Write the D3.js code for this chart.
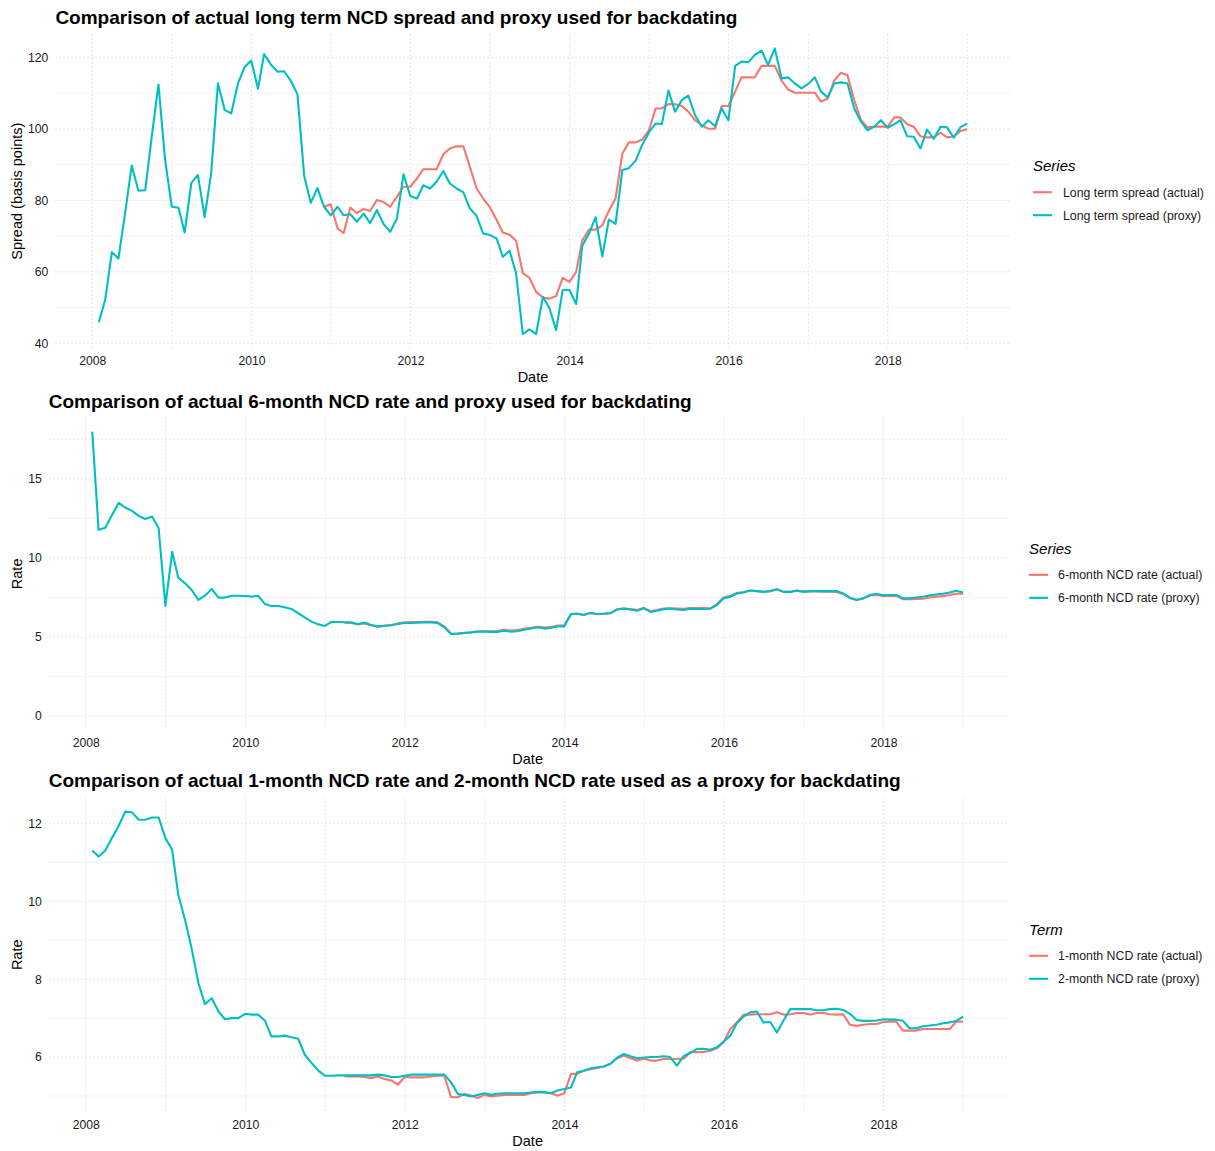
<!DOCTYPE html>
<html><head><meta charset="utf-8">
<script src="https://cdn.jsdelivr.net/npm/d3@7/dist/d3.min.js"></script>
<style>
body{margin:0;background:#fff;}
svg{display:block;font-family:"Liberation Sans",Arial,Helvetica,sans-serif;}
</style>
</head><body>
<svg id="chart" width="1215" height="1151"></svg>
<script>
// ---- Categories: month-end dates, Jan 2008 .. Dec 2018 ----
const firstYear = 2008, monthCount = 132;
const months = d3.range(monthCount).map(i => new Date(firstYear, i + 1, 0));

const xTickYears = [2008, 2010, 2012, 2014, 2016, 2018];
const xMinorYears = [2009, 2011, 2013, 2015, 2017, 2019];

// ---- Panel 1: long term spread (basis points) ----
const spreadProxy = [
 45.9,52.1,65.5,63.7,76.5,89.7,82.7,82.8,97.8,112.4,91.5,78.2,
 77.9,71.0,84.9,87.1,75.3,87.6,112.7,105.3,104.3,112.7,117.2,119.1,
 111.2,120.9,118.0,116.0,116.1,113.5,109.7,86.9,79.3,83.4,78.2,75.8,
 78.2,75.8,76.1,74.0,76.3,73.6,77.3,73.3,71.2,74.9,87.3,81.2,
 80.5,84.2,83.3,85.2,88.2,84.7,83.3,82.2,77.7,75.6,70.7,70.3,
 69.3,64.2,65.9,59.6,42.6,43.9,42.6,53.0,49.8,43.7,54.9,54.9,
 51.0,67.3,70.7,75.3,64.3,74.6,73.4,88.5,89.0,91.1,95.5,99.0,
 101.5,101.3,110.7,104.8,108.0,109.3,103.8,100.6,102.4,100.7,105.7,102.4,
 117.6,118.8,118.6,120.7,121.9,117.9,122.5,114.1,114.4,112.7,111.3,112.5,
 114.4,110.4,108.8,112.7,113.0,112.7,105.7,102.0,99.6,100.6,102.4,100.3,
 101.3,102.4,97.9,97.8,94.5,99.8,97.2,100.6,100.4,97.5,100.4,101.5
];
const spreadActual = [
 null,null,null,null,null,null,null,null,null,null,null,null,
 null,null,null,null,null,null,null,null,null,null,null,null,
 null,null,null,null,null,null,null,null,null,null,78.2,78.9,
 72.2,70.8,78.0,76.4,77.6,77.0,80.1,79.5,78.2,81.0,83.8,83.8,
 86.1,88.7,88.7,88.7,92.9,94.5,95.1,95.1,89.3,83.3,80.5,78.0,
 74.5,71.0,70.4,68.7,59.6,58.4,54.4,52.8,52.5,53.2,58.3,57.2,
 60.0,68.8,71.8,71.8,73.0,77.0,80.5,93.1,96.2,96.2,97.0,99.6,
 105.7,105.7,106.9,106.9,106.4,104.8,102.4,101.0,100.0,100.0,106.4,106.4,
 110.4,114.4,114.4,114.4,117.6,117.6,117.6,113.5,111.0,110.1,110.1,110.1,
 110.1,107.6,108.5,113.5,115.7,115.0,108.0,102.4,100.4,100.6,100.6,100.6,
 103.2,103.2,101.3,100.6,97.9,97.6,97.6,98.9,97.6,97.9,99.4,99.9
];

// ---- Panel 2: 6-month NCD rate ----
const sixMonthProxy = [
 17.98,11.77,11.91,12.69,13.47,13.18,12.97,12.65,12.46,12.61,11.87,6.96,
 10.38,8.75,8.39,7.97,7.34,7.61,8.04,7.49,7.49,7.61,7.61,7.59,
 7.55,7.61,7.09,6.96,6.96,6.88,6.77,6.50,6.24,5.97,5.80,5.70,
 5.95,5.95,5.93,5.93,5.80,5.91,5.76,5.67,5.71,5.74,5.82,5.88,
 5.88,5.90,5.92,5.92,5.88,5.61,5.19,5.21,5.25,5.29,5.34,5.34,
 5.32,5.32,5.40,5.34,5.36,5.46,5.53,5.61,5.53,5.57,5.67,5.67,
 6.45,6.47,6.39,6.53,6.45,6.47,6.51,6.74,6.79,6.74,6.66,6.81,
 6.58,6.66,6.76,6.79,6.74,6.71,6.79,6.77,6.77,6.79,7.02,7.44,
 7.54,7.75,7.81,7.94,7.90,7.85,7.90,8.02,7.85,7.85,7.92,7.85,
 7.90,7.90,7.90,7.90,7.90,7.75,7.48,7.35,7.44,7.65,7.73,7.63,
 7.65,7.65,7.44,7.44,7.50,7.54,7.63,7.69,7.73,7.81,7.92,7.81
];
const sixMonthActual = [
 null,null,null,null,null,null,null,null,null,null,null,null,
 null,null,null,null,null,null,null,null,null,null,null,null,
 null,null,null,null,null,null,null,null,null,null,null,null,
 null,null,5.88,5.88,5.80,5.85,5.74,5.65,5.70,5.76,5.85,5.93,
 5.94,5.95,5.96,5.96,5.92,5.66,5.20,5.22,5.26,5.30,5.35,5.36,
 5.36,5.38,5.46,5.40,5.44,5.52,5.58,5.64,5.60,5.62,5.72,5.72,
 6.45,6.47,6.41,6.50,6.44,6.47,6.51,6.76,6.80,6.76,6.70,6.84,
 6.62,6.70,6.80,6.82,6.80,6.78,6.83,6.83,6.83,6.80,7.08,7.50,
 7.60,7.78,7.84,7.94,7.90,7.86,7.90,8.00,7.85,7.86,7.94,7.88,
 7.90,7.88,7.86,7.86,7.84,7.72,7.45,7.34,7.44,7.62,7.66,7.60,
 7.60,7.60,7.38,7.38,7.40,7.42,7.50,7.54,7.58,7.65,7.73,7.73
];

// ---- Panel 3: 1-month actual vs 2-month proxy ----
const twoMonthProxy = [
 11.30,11.15,11.30,11.62,11.93,12.30,12.28,12.09,12.09,12.15,12.15,11.62,
 11.32,10.16,9.52,8.79,7.90,7.36,7.51,7.17,6.97,7.00,7.00,7.11,
 7.09,7.09,6.94,6.53,6.53,6.55,6.51,6.47,6.06,5.85,5.66,5.52,
 5.52,5.53,5.53,5.53,5.53,5.53,5.53,5.55,5.53,5.49,5.49,5.52,
 5.55,5.55,5.55,5.55,5.55,5.55,5.35,5.05,5.03,4.99,5.03,5.07,
 5.03,5.06,5.07,5.07,5.07,5.07,5.09,5.11,5.10,5.07,5.14,5.18,
 5.22,5.61,5.65,5.71,5.74,5.76,5.83,5.99,6.08,6.02,5.97,5.99,
 6.00,6.00,6.02,6.00,5.78,6.02,6.11,6.21,6.21,6.19,6.25,6.40,
 6.55,6.87,7.04,7.15,7.17,6.89,6.90,6.63,6.94,7.23,7.23,7.23,
 7.23,7.20,7.20,7.23,7.24,7.21,7.11,6.95,6.93,6.93,6.94,6.97,
 6.96,6.96,6.93,6.74,6.74,6.79,6.81,6.83,6.87,6.89,6.93,7.04
];
const oneMonthActual = [
 null,null,null,null,null,null,null,null,null,null,null,null,
 null,null,null,null,null,null,null,null,null,null,null,null,
 null,null,null,null,null,null,null,null,null,null,null,null,
 null,null,5.50,5.50,5.50,5.49,5.46,5.50,5.44,5.40,5.29,5.49,
 5.48,5.48,5.48,5.50,5.52,5.52,4.97,4.97,5.05,5.01,4.95,5.03,
 4.99,5.01,5.03,5.03,5.03,5.03,5.07,5.09,5.09,5.07,5.01,5.07,
 5.57,5.57,5.65,5.69,5.72,5.76,5.83,5.97,6.04,5.97,5.91,5.96,
 5.91,5.91,5.95,5.95,5.95,5.96,6.12,6.13,6.13,6.16,6.23,6.38,
 6.72,6.89,7.09,7.09,7.10,7.10,7.10,7.15,7.09,7.10,7.13,7.13,
 7.09,7.13,7.13,7.10,7.09,7.10,6.83,6.80,6.83,6.85,6.85,6.90,
 6.91,6.91,6.68,6.68,6.68,6.72,6.72,6.72,6.72,6.72,6.91,6.91
];

// ---- Text ----
const panelTitles = [
 "Comparison of actual long term NCD spread and proxy used for backdating",
 "Comparison of actual 6-month NCD rate and proxy used for backdating",
 "Comparison of actual 1-month NCD rate and 2-month NCD rate used as a proxy for backdating"
];
const yTitles = ["Spread (basis points)", "Rate", "Rate"];
const legendTitles = ["Series", "Series", "Term"];
const seriesLabels = [
 ["Long term spread (actual)", "Long term spread (proxy)"],
 ["6-month NCD rate (actual)", "6-month NCD rate (proxy)"],
 ["1-month NCD rate (actual)", "2-month NCD rate (proxy)"]
];
const yMajorTicks = [[40,60,80,100,120],[0,5,10,15],[6,8,10,12]];
const yMinorTicks = [[50,70,90,110],[2.5,7.5,12.5,17.5],[5,7,9,11]];

// ---- Layout (separate from data) ----
const layout = [
 {left:55.4, right:1010.5, top:34.1, bottom:348.3, zero:false},
 {left:48.7, right:1006.6, top:417.4, bottom:730.3, zero:true},
 {left:48.7, right:1006.6, top:797.3, bottom:1112.3, zero:false}
];
const seriesData = [
 [spreadActual, spreadProxy],
 [sixMonthActual, sixMonthProxy],
 [oneMonthActual, twoMonthProxy]
];
const colors = ["#F8766D", "#00BFC4"];

const svg = d3.select("#chart");

function expand(ext) {
  const d = (ext[1] - ext[0]) * 0.05;
  return [ext[0] - d, ext[1] + d];
}

layout.forEach((L, p) => {
  const g = svg.append("g");
  const [act, prox] = seriesData[p];
  const xd = expand([+months[0], +months[monthCount - 1]]);
  const x = d3.scaleTime().domain([new Date(xd[0]), new Date(xd[1])]).range([L.left, L.right]);
  const allVals = act.concat(prox).filter(v => v != null);
  let ext = d3.extent(allVals);
  if (L.zero) ext = [Math.min(0, ext[0]), ext[1]];
  const y = d3.scaleLinear().domain(expand(ext)).range([L.bottom, L.top]);

  // grid lines
  const grid = g.append("g").attr("fill", "none");
  const gridStyle = (sel, w) => sel.attr("stroke", "#e3e3e3").attr("stroke-width", w).attr("stroke-dasharray", "2,2");
  yMinorTicks[p].forEach(v => gridStyle(grid.append("line").attr("x1", L.left).attr("x2", L.right).attr("y1", y(v)).attr("y2", y(v)), 0.8));
  yMajorTicks[p].forEach(v => gridStyle(grid.append("line").attr("x1", L.left).attr("x2", L.right).attr("y1", y(v)).attr("y2", y(v)), 1));
  xMinorYears.forEach(yr => { const xx = x(new Date(yr, 0, 1)); if (xx <= L.right) gridStyle(grid.append("line").attr("x1", xx).attr("x2", xx).attr("y1", L.top).attr("y2", L.bottom), 0.8); });
  xTickYears.forEach(yr => { const xx = x(new Date(yr, 0, 1)); gridStyle(grid.append("line").attr("x1", xx).attr("x2", xx).attr("y1", L.top).attr("y2", L.bottom), 1); });

  // axes (text only, like theme_minimal)
  const xAxis = d3.axisBottom(x).tickValues(xTickYears.map(yr => new Date(yr, 0, 1))).tickFormat(d3.timeFormat("%Y")).tickSize(0).tickPadding(0);
  const xa = g.append("g").attr("transform", `translate(0,${L.bottom + 12.7})`).call(xAxis);
  xa.select(".domain").remove();
  xa.selectAll("text").attr("dy", "0.35em").attr("y", 0).attr("font-size", "12.2px").attr("fill", "#1a1a1a").attr("font-family", "Liberation Sans, Arial, sans-serif");

  const yAxis = d3.axisLeft(y).tickValues(yMajorTicks[p]).tickFormat(d3.format("d")).tickSize(0).tickPadding(0);
  const ya = g.append("g").attr("transform", `translate(${L.left - 7},0)`).call(yAxis);
  ya.select(".domain").remove();
  ya.selectAll("text").attr("x", 0).attr("font-size", "12.2px").attr("fill", "#1a1a1a").attr("font-family", "Liberation Sans, Arial, sans-serif");

  // lines
  const line = d3.line().defined(d => d[1] != null).x(d => x(d[0])).y(d => y(d[1]));
  [act, prox].forEach((vals, s) => {
    g.append("path").datum(months.map((m, i) => [m, vals[i]]))
      .attr("d", line).attr("fill", "none").attr("stroke", colors[s])
      .attr("stroke-width", 2.1).attr("stroke-linejoin", "round").attr("stroke-linecap", "butt");
  });

  // titles
  g.append("text").attr("x", L.left).attr("y", L.top - 16.5).attr("dy", "0.35em")
    .attr("font-size", "19px").attr("font-weight", "bold").attr("fill", "#000").text(panelTitles[p]);
  g.append("text").attr("x", (L.left + L.right) / 2).attr("y", L.bottom + 29).attr("dy", "0.35em")
    .attr("text-anchor", "middle").attr("font-size", "14.5px").attr("fill", "#000").text("Date");
  const cy = (L.top + L.bottom) / 2;
  g.append("text").attr("transform", `translate(17,${cy}) rotate(-90)`).attr("dy", "0.35em")
    .attr("text-anchor", "middle").attr("font-size", "14.5px").attr("fill", "#000").text(yTitles[p]);

  // legend
  const lx = L.right + 22.5;
  g.append("text").attr("x", lx).attr("y", cy - 25).attr("dy", "0.35em")
    .attr("font-size", "15px").attr("font-style", "italic").attr("fill", "#000").text(legendTitles[p]);
  seriesLabels[p].forEach((lab, s) => {
    const ky = cy + 1 + s * 23;
    g.append("line").attr("x1", lx).attr("x2", lx + 19).attr("y1", ky).attr("y2", ky)
      .attr("stroke", colors[s]).attr("stroke-width", 2.1);
    g.append("text").attr("x", lx + 30 - (p === 0 ? 0 : 1)).attr("y", ky).attr("dy", "0.35em")
      .attr("font-size", "12.3px").attr("fill", "#1a1a1a").text(lab);
  });
});
</script>
</body></html>
